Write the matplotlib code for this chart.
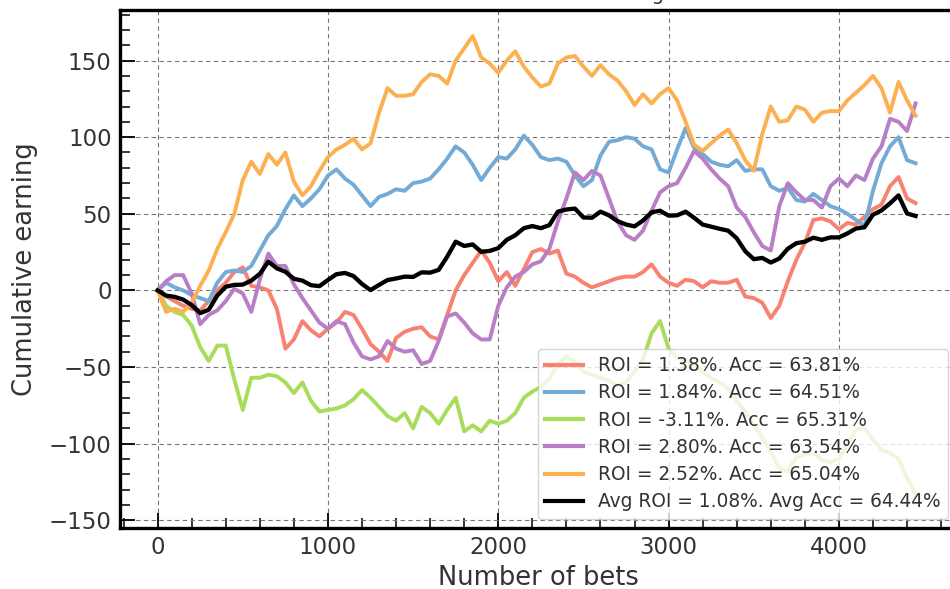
import numpy as np
import matplotlib
matplotlib.use("Agg")
import matplotlib.pyplot as plt
from matplotlib.ticker import MultipleLocator

# Bets axis: one reading every 50 bets
bets = np.arange(0, 4451, 50)

# Cumulative earning of each model (units), sampled every 50 bets
earn_model_1 = [0, -4, -7, -10, -12, -13, -7, 0, 5, 12, 15, 3, 2, 0, -12, -38, -32, -20, -26, -30,
                -25, -21, -14, -16, -25, -35, -40, -46, -31, -27, -25, -24, -30, -32, -16, 0, 10, 18, 26, 18,
                6, 12, 3, 14, 25, 27, 24, 26, 11, 9, 5, 2, 4, 6, 8, 9, 9, 12, 17, 9,
                5, 3, 7, 6, 2, 6, 5, 5, 7, -4, -5, -8, -18, -10, 6, 20, 31, 46, 47, 45,
                40, 44, 43, 48, 53, 56, 68, 74, 60, 57]
earn_model_2 = [0, 5, 2, 0, -3, -5, -7, 5, 12, 13, 12, 16, 26, 36, 42, 53, 62, 55, 60, 66,
                75, 79, 73, 69, 62, 55, 61, 63, 66, 65, 70, 71, 73, 79, 86, 94, 90, 82, 72, 80,
                87, 86, 92, 101, 95, 87, 85, 86, 84, 75, 68, 72, 88, 97, 98, 100, 99, 94, 92, 79,
                77, 92, 106, 93, 89, 84, 82, 81, 85, 78, 79, 79, 68, 65, 67, 59, 58, 63, 59, 55,
                53, 50, 46, 42, 65, 83, 94, 100, 85, 83]
earn_model_3 = [0, -10, -14, -16, -23, -37, -46, -36, -36, -58, -78, -57, -57, -55, -56, -60, -67, -60, -72, -79,
                -78, -77, -75, -71, -65, -70, -76, -82, -85, -80, -90, -76, -80, -87, -78, -70, -92, -88, -92, -85,
                -87, -85, -80, -70, -66, -63, -58, -48, -43, -47, -53, -55, -57, -59, -62, -60, -53, -45, -28, -20,
                -38, -44, -46, -48, -53, -57, -60, -64, -72, -79, -88, -96, -105, -116, -118, -109, -107, -106, -111, -112,
                -110, -100, -91, -90, -97, -104, -106, -110, -122, -133]
earn_model_4 = [0, 6, 10, 10, -2, -22, -16, -13, -7, 1, -2, -14, 7, 24, 16, 16, 4, -5, -13, -21,
                -25, -20, -22, -34, -43, -45, -43, -33, -38, -40, -39, -48, -46, -33, -17, -15, -21, -28, -32, -32,
                -10, 2, 9, 12, 17, 19, 27, 45, 60, 77, 72, 78, 75, 60, 45, 36, 33, 39, 52, 64,
                68, 70, 80, 91, 86, 79, 73, 68, 54, 48, 38, 29, 26, 55, 70, 64, 59, 59, 54, 68,
                73, 68, 75, 72, 86, 94, 112, 110, 104, 122]
earn_model_5 = [0, -14, -12, -14, -8, 3, 13, 27, 38, 50, 72, 84, 76, 89, 82, 90, 71, 62, 68, 78,
                87, 92, 95, 99, 92, 96, 116, 132, 127, 127, 128, 136, 141, 140, 135, 150, 158, 166, 152, 148,
                142, 150, 156, 146, 139, 133, 135, 148, 152, 153, 146, 140, 147, 141, 137, 130, 121, 128, 122, 128,
                132, 124, 110, 95, 91, 96, 101, 105, 96, 85, 78, 102, 120, 110, 111, 120, 118, 110, 116, 117,
                117, 124, 129, 134, 140, 132, 116, 136, 124, 114]

series = [earn_model_1, earn_model_2, earn_model_3, earn_model_4, earn_model_5]
labels = [
    "ROI = 1.38%. Acc = 63.81%",
    "ROI = 1.84%. Acc = 64.51%",
    "ROI = -3.11%. Acc = 65.31%",
    "ROI = 2.80%. Acc = 63.54%",
    "ROI = 2.52%. Acc = 65.04%",
]
avg_label = "Avg ROI = 1.08%. Avg Acc = 64.44%"
colors = ["#F8816F", "#74ABD6", "#A8DC5A", "#B87FC7", "#FDB052"]

# Average earning over the five models
avg_earn = np.mean(np.array(series, dtype=float), axis=0)

text_color = "#333333"
plt.rcParams["font.family"] = ["DejaVu Sans"]

fig = plt.figure(figsize=(9.5, 5.89), dpi=100)
ax = fig.add_axes([0.1263, 0.1036, 0.881, 0.8795])

for vals, lab, col in zip(series, labels, colors):
    ax.plot(bets, vals, color=col, lw=2.8, label=lab, zorder=3)
ax.plot(bets, avg_earn, color="black", lw=3.1, label=avg_label, zorder=4)

ax.set_xlim(-221, 4693)
ax.set_ylim(-155, 183)

ax.xaxis.set_major_locator(MultipleLocator(1000))
ax.xaxis.set_minor_locator(MultipleLocator(200))
ax.yaxis.set_major_locator(MultipleLocator(50))
ax.yaxis.set_minor_locator(MultipleLocator(10))

ax.tick_params(which="both", direction="in", colors="black", labelcolor=text_color,
               top=False, right=False)
ax.tick_params(which="major", length=11, width=1.3, labelsize=16.5, pad=6)
ax.tick_params(which="minor", length=7, width=1.1)

ax.grid(True, which="major", linestyle=(0, (4, 3)), color="#777777", linewidth=0.8, zorder=0)

for side in ["left", "bottom", "top", "right"]:
    ax.spines[side].set_linewidth(2.4)
    ax.spines[side].set_color("black")

ax.set_xlabel("Number of bets", fontsize=18.5, color=text_color, labelpad=4)
ax.set_ylabel("Cumulative earning", fontsize=18.5, color=text_color, labelpad=8)
ax.set_title("Cumulative return of each model using a fixed stake",
             fontsize=14, color=text_color, pad=7.5)

leg = ax.legend(loc="lower right", fontsize=13.4, frameon=True, fancybox=True,
                framealpha=0.8, edgecolor="#cccccc", labelspacing=0.44,
                handlelength=2.0, borderaxespad=0.5)
for t in leg.get_texts():
    t.set_color(text_color)
for h in leg.get_lines():
    h.set_linewidth(3.0)

fig.savefig("out.png", dpi=100)
